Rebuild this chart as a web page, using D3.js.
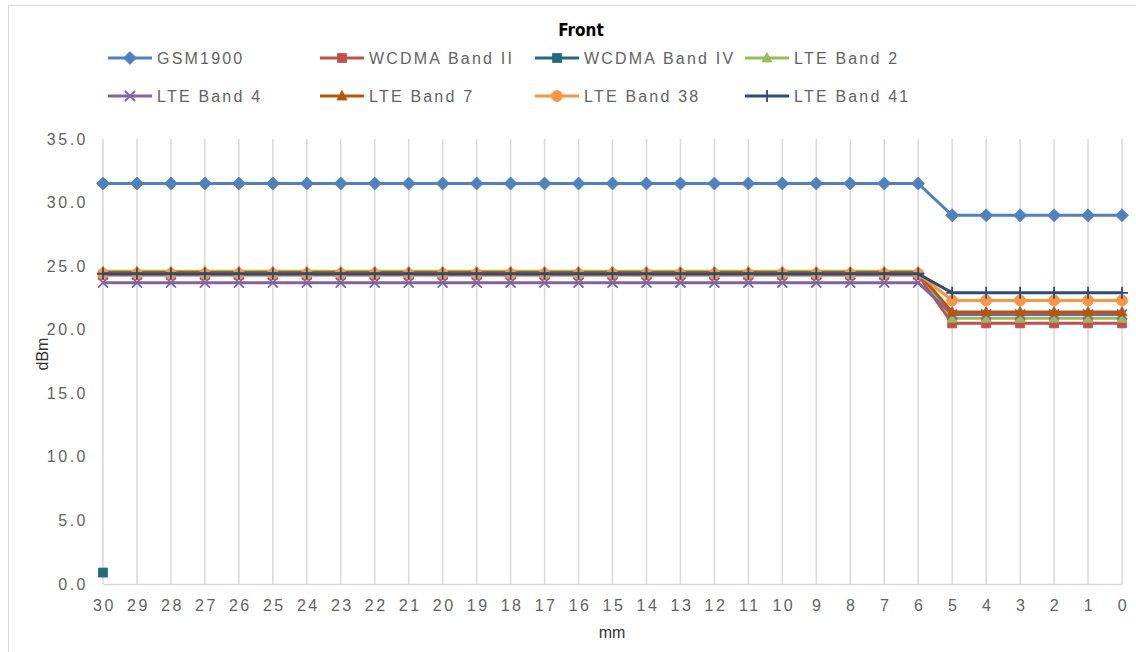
<!DOCTYPE html>
<html>
<head>
<meta charset="utf-8">
<script src="https://cdn.jsdelivr.net/npm/d3@7"></script>
<style>
  body { margin: 0; background: #fff; }
  text { font-family: "Liberation Sans", Arial, sans-serif; }
</style>
</head>
<body>
<svg id="chart" width="1136" height="652"></svg>
<script>
// categories (distance, mm)
var distances = ["30","29","28","27","26","25","24","23","22","21","20","19","18","17","16","15","14","13","12","11","10","9","8","7","6","5","4","3","2","1","0"];
var yTicks = [0, 5, 10, 15, 20, 25, 30, 35];

// series values, dBm
var gsm1900 =    [31.5,31.5,31.5,31.5,31.5,31.5,31.5,31.5,31.5,31.5,31.5,31.5,31.5,31.5,31.5,31.5,31.5,31.5,31.5,31.5,31.5,31.5,31.5,31.5,31.5,29.0,29.0,29.0,29.0,29.0,29.0];
var wcdmaBand2 = [24.3,24.3,24.3,24.3,24.3,24.3,24.3,24.3,24.3,24.3,24.3,24.3,24.3,24.3,24.3,24.3,24.3,24.3,24.3,24.3,24.3,24.3,24.3,24.3,24.3,20.5,20.5,20.5,20.5,20.5,20.5];
var wcdmaBand4 = [0.9,null,null,null,null,null,null,null,null,null,null,null,null,null,null,null,null,null,null,null,null,null,null,null,null,null,null,null,null,null,null];
var lteBand2 =   [24.6,24.6,24.6,24.6,24.6,24.6,24.6,24.6,24.6,24.6,24.6,24.6,24.6,24.6,24.6,24.6,24.6,24.6,24.6,24.6,24.6,24.6,24.6,24.6,24.6,20.9,20.9,20.9,20.9,20.9,20.9];
var lteBand4 =   [23.7,23.7,23.7,23.7,23.7,23.7,23.7,23.7,23.7,23.7,23.7,23.7,23.7,23.7,23.7,23.7,23.7,23.7,23.7,23.7,23.7,23.7,23.7,23.7,23.7,21.2,21.2,21.2,21.2,21.2,21.2];
var lteBand7 =   [24.5,24.5,24.5,24.5,24.5,24.5,24.5,24.5,24.5,24.5,24.5,24.5,24.5,24.5,24.5,24.5,24.5,24.5,24.5,24.5,24.5,24.5,24.5,24.5,24.5,21.4,21.4,21.4,21.4,21.4,21.4];
var lteBand38 =  [24.4,24.4,24.4,24.4,24.4,24.4,24.4,24.4,24.4,24.4,24.4,24.4,24.4,24.4,24.4,24.4,24.4,24.4,24.4,24.4,24.4,24.4,24.4,24.4,24.4,22.3,22.3,22.3,22.3,22.3,22.3];
var lteBand41 =  [24.4,24.4,24.4,24.4,24.4,24.4,24.4,24.4,24.4,24.4,24.4,24.4,24.4,24.4,24.4,24.4,24.4,24.4,24.4,24.4,24.4,24.4,24.4,24.4,24.4,22.9,22.9,22.9,22.9,22.9,22.9];

var series = [
  {name: "GSM1900",         values: gsm1900,    color: "#4f81bd", marker: "diamond"},
  {name: "WCDMA Band II",   values: wcdmaBand2, color: "#c0504d", marker: "square"},
  {name: "WCDMA Band IV",   values: wcdmaBand4, color: "#236a7a", marker: "square"},
  {name: "LTE Band 2",      values: lteBand2,   color: "#9bbb59", marker: "triangle"},
  {name: "LTE Band 4",      values: lteBand4,   color: "#8064a2", marker: "x"},
  {name: "LTE Band 7",      values: lteBand7,   color: "#b65708", marker: "triangle"},
  {name: "LTE Band 38",     values: lteBand38,  color: "#f79646", marker: "circle"},
  {name: "LTE Band 41",     values: lteBand41,  color: "#2c4d75", marker: "plus"}
];

var svg = d3.select("#chart");
var plot = {left: 103, right: 1122, top: 139, bottom: 584};

// chart frame
svg.append("rect")
  .attr("x", 8.5).attr("y", 5.5)
  .attr("width", 1140).attr("height", 700)
  .attr("fill", "#fff").attr("stroke", "#d9d9d9");

var x = d3.scalePoint().domain(distances).range([plot.left, plot.right]);
var y = d3.scaleLinear().domain([0, 35]).range([plot.bottom, plot.top]);

// vertical gridlines
svg.append("g").selectAll("line")
  .data(distances)
  .join("line")
  .attr("x1", function(d) { return x(d); })
  .attr("x2", function(d) { return x(d); })
  .attr("y1", plot.top).attr("y2", plot.bottom)
  .attr("stroke", "#d9d9d9").attr("stroke-width", 1.5);

// x axis
var xAxis = svg.append("g")
  .attr("transform", "translate(0," + plot.bottom + ")")
  .call(d3.axisBottom(x).tickSize(0).tickPadding(16));
xAxis.select(".domain").attr("stroke", "#d9d9d9").attr("stroke-width", 1.5);
xAxis.selectAll("text")
  .attr("fill", "#636363").style("font-size", "16px").style("letter-spacing", "2.5px")
  .attr("dx", "1px");

// y axis
var yAxis = svg.append("g")
  .attr("transform", "translate(" + plot.left + ",0)")
  .call(d3.axisLeft(y).tickValues(yTicks).tickFormat(d3.format(".1f")).tickSize(0).tickPadding(15));
yAxis.select(".domain").remove();
yAxis.selectAll("text")
  .attr("fill", "#636363").style("font-size", "16px").style("letter-spacing", "2.5px");

// marker shapes
function symbolFor(m) {
  if (m == "diamond") return "M0,-6.5L6.5,0L0,6.5L-6.5,0Z";
  if (m == "square") return "M-4.5,-4.5H4.5V4.5H-4.5Z";
  if (m == "triangle") return "M0,-5.5L5,4L-5,4Z";
  if (m == "circle") return d3.symbol().type(d3.symbolCircle).size(95)();
  if (m == "x") return "M-5,-5L5,5M-5,5L5,-5";
  if (m == "plus") return "M-6,0L6,0M0,-6L0,6";
}

var line = d3.line()
  .defined(function(d) { return d.v != null; })
  .x(function(d) { return x(d.k); })
  .y(function(d) { return y(d.v); });

series.forEach(function(s) {
  var pts = s.values.map(function(v, i) { return {k: distances[i], v: v}; });
  var g = svg.append("g");
  g.append("path")
    .datum(pts)
    .attr("d", line)
    .attr("fill", "none")
    .attr("stroke", s.color)
    .attr("stroke-width", 3)
    .attr("stroke-linejoin", "round");
  var stroked = (s.marker == "x" || s.marker == "plus");
  g.selectAll(".mk")
    .data(pts.filter(function(d) { return d.v != null; }))
    .join("path")
    .attr("transform", function(d) { return "translate(" + x(d.k) + "," + y(d.v) + ")"; })
    .attr("d", symbolFor(s.marker))
    .attr("fill", stroked ? "none" : s.color)
    .attr("stroke", s.color)
    .attr("stroke-width", stroked ? 1.8 : 0.8);
});

// title
svg.append("text")
  .attr("x", 581).attr("y", 36)
  .attr("text-anchor", "middle")
  .style("font-family", "'DejaVu Sans Condensed', 'DejaVu Sans', sans-serif")
  .style("font-weight", "bold").style("font-size", "17px")
  .attr("fill", "#000")
  .text("Front");

// axis titles
svg.append("text")
  .attr("x", 612).attr("y", 638)
  .attr("text-anchor", "middle")
  .attr("fill", "#333").style("font-size", "16px")
  .text("mm");
svg.append("text")
  .attr("transform", "translate(48,354) rotate(-90)")
  .attr("text-anchor", "middle")
  .attr("fill", "#333").style("font-size", "16px")
  .text("dBm");

// legend
var legendX = [108, 320, 535, 745];
var legendY = [58, 96];
series.forEach(function(s, i) {
  var lx = legendX[i % 4], ly = legendY[Math.floor(i / 4)];
  var g = svg.append("g").attr("transform", "translate(" + lx + "," + ly + ")");
  g.append("line").attr("x1", 0).attr("x2", 44).attr("y1", 0).attr("y2", 0)
    .attr("stroke", s.color).attr("stroke-width", 3);
  var stroked = (s.marker == "x" || s.marker == "plus");
  g.append("path")
    .attr("transform", "translate(22,0)")
    .attr("d", symbolFor(s.marker))
    .attr("fill", stroked ? "none" : s.color)
    .attr("stroke", s.color)
    .attr("stroke-width", stroked ? 1.8 : 0.8);
  g.append("text").attr("x", 49).attr("y", 6)
    .attr("fill", "#636363").style("font-size", "16px").style("letter-spacing", "2.2px")
    .text(s.name);
});
</script>
</body>
</html>
